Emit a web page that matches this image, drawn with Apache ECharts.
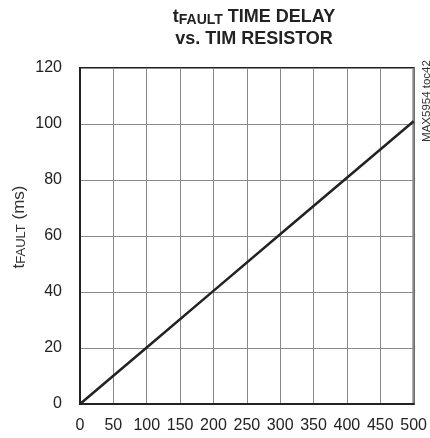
<!DOCTYPE html>
<html>
<head>
<meta charset="utf-8">
<script src="https://cdn.jsdelivr.net/npm/echarts@6/dist/echarts.min.js"></script>
<style>html,body{margin:0;padding:0;background:#fff}#c{width:430px;height:438px}</style>
</head>
<body>
<div id="c"></div>
<script>
const resistanceK = [0, 100, 200, 300, 400, 500];
const tFaultMs = [0, 20.2, 40.4, 60.6, 80.8, 101];
const xTicks = [0, 50, 100, 150, 200, 250, 300, 350, 400, 450, 500];
const yTicks = [0, 20, 40, 60, 80, 100, 120];

const FONT = "'Liberation Sans', Arial, sans-serif";
const chart = echarts.init(document.getElementById('c'), null, {renderer: 'canvas'});
chart.setOption({
  animation: false,
  backgroundColor: '#fff',
  title: {
    left: 249, top: 1, textAlign: 'center',
    text: '{t|t}{s|FAULT}{t| TIME DELAY}\n{t|vs. TIM RESISTOR}',
    textStyle: {
      rich: {
        t: {fontFamily: FONT, fontWeight: 'bold', fontSize: 18, color: '#222', lineHeight: 22},
        s: {fontFamily: FONT, fontWeight: 'bold', fontSize: 14, color: '#222', lineHeight: 22, padding: [6, 0, 0, 0]}
      }
    }
  },
  grid: {left: 80, right: 12, top: 68, bottom: 34, show: true, borderColor: '#222', borderWidth: 2, containLabel: false},
  xAxis: {
    type: 'value', min: xTicks[0], max: xTicks[xTicks.length - 1], interval: 50,
    axisLine: {show: true, lineStyle: {color: '#222', width: 2}},
    axisTick: {show: false},
    axisLabel: {fontFamily: FONT, fontSize: 16, color: '#222', margin: 14},
    splitLine: {show: true, lineStyle: {color: '#888', width: 1}}
  },
  yAxis: {
    type: 'value', min: yTicks[0], max: yTicks[yTicks.length - 1], interval: 20,
    axisLine: {show: true, lineStyle: {color: '#222', width: 2}},
    axisTick: {show: false},
    axisLabel: {fontFamily: FONT, fontSize: 16, color: '#222', margin: 18},
    splitLine: {show: true, lineStyle: {color: '#888', width: 1}}
  },
  graphic: [
    {
      type: 'text', x: 19, y: 227, rotation: Math.PI / 2,
      style: {
        text: '{t|t}{s|FAULT}{t| (ms)}',
        align: 'center', verticalAlign: 'middle',
        rich: {
          t: {fontFamily: FONT, fontSize: 17, fill: '#333', lineHeight: 20},
          s: {fontFamily: FONT, fontSize: 13, fill: '#333', lineHeight: 20, padding: [5, 0, 0, 0]}
        }
      }
    },
    {
      type: 'text', x: 427, y: 101, rotation: Math.PI / 2,
      style: {
        text: 'MAX5954 toc42', align: 'center', verticalAlign: 'middle',
        fontFamily: FONT, fontSize: 11.5, fill: '#333'
      }
    }
  ],
  series: [{
    type: 'line',
    data: resistanceK.map((x, i) => [x, tFaultMs[i]]),
    showSymbol: false,
    lineStyle: {color: '#222', width: 2.5},
    z: 5
  }]
});
</script>
</body>
</html>
